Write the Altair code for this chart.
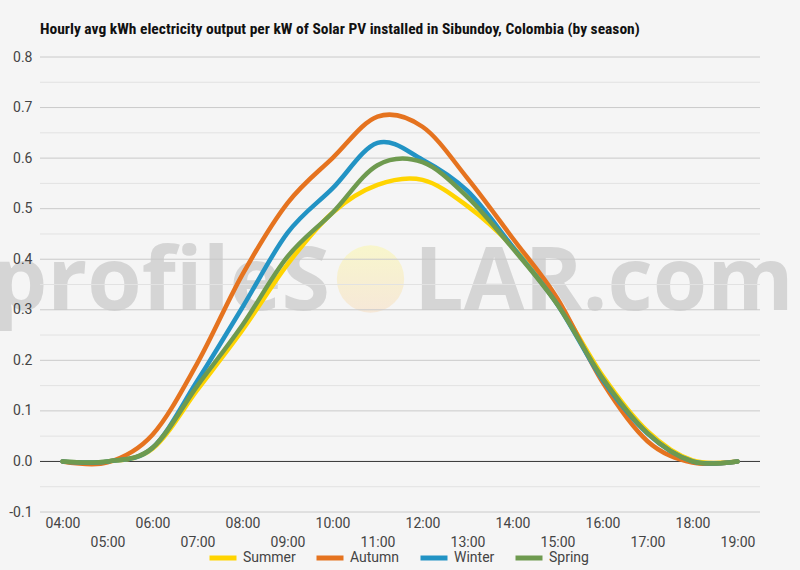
import altair as alt
import pandas as pd

# ---- data ----
hours = list(range(4, 20))
seasons = ["Summer", "Autumn", "Winter", "Spring"]
colors = ["#FFD400", "#E5731F", "#2293C4", "#6E9A4F"]

summer = [0.0, 0.0, 0.025, 0.142, 0.26, 0.39, 0.492, 0.547, 0.557, 0.505, 0.425, 0.315, 0.17, 0.06, 0.002, 0.0]
autumn = [0.0, -0.002, 0.053, 0.195, 0.37, 0.511, 0.60, 0.682, 0.662, 0.56, 0.442, 0.322, 0.157, 0.04, -0.002, 0.0]
winter = [0.0, 0.0, 0.027, 0.16, 0.305, 0.452, 0.54, 0.630, 0.597, 0.535, 0.425, 0.31, 0.162, 0.055, 0.0, 0.0]
spring = [0.0, 0.0, 0.027, 0.15, 0.27, 0.405, 0.492, 0.586, 0.592, 0.523, 0.422, 0.31, 0.165, 0.056, 0.0, 0.0]

y_ticks = [-0.1, 0.0, 0.1, 0.2, 0.3, 0.4, 0.5, 0.6, 0.7, 0.8]
y_minor = [-0.05, 0.05, 0.15, 0.25, 0.35, 0.45, 0.55, 0.65, 0.75]
watermark = ["profileS", "LAR.com"]

title_text = "Hourly avg kWh electricity output per kW of Solar PV installed in Sibundoy, Colombia (by season)"

# ---- tables ----
series = {"Summer": summer, "Autumn": autumn, "Winter": winter, "Spring": spring}
rows = []
for s in seasons:
    for h, v in zip(hours, series[s]):
        rows.append({"hour": h, "value": v, "season": s})
df = pd.DataFrame(rows)

major_df = pd.DataFrame({"value": [t for t in y_ticks if t != 0.0]})
minor_df = pd.DataFrame({"value": y_minor})
zero_df = pd.DataFrame({"value": [0.0]})

W, H = 720, 455
xscale = alt.Scale(domain=[3.5, 19.5], nice=False, zero=False)
yscale = alt.Scale(domain=[-0.1, 0.8], nice=False, zero=False)

FONT = "Roboto"

y_axis = alt.Axis(
    values=y_ticks, grid=False, domain=False, ticks=False, title=None,
    labelExpr="(datum.value < 0 ? '-' : '') + format(abs(datum.value), '.1f')",
    labelFont=FONT, labelFontSize=14, labelColor="#444444",
    labelPadding=8, zindex=1,
)
Y = alt.Y("value:Q", scale=yscale, axis=y_axis)

# watermark sun
sun = alt.Chart(pd.DataFrame({"k": [1]})).mark_circle(
    opacity=1,
    fill={
        "gradient": "linear",
        "x1": 0, "y1": 0, "x2": 0, "y2": 1,
        "stops": [
            {"offset": 0, "color": "#F8F6CC"},
            {"offset": 1, "color": "#F6E8D8"},
        ],
    },
    strokeWidth=0,
).encode(x=alt.value(330.5), y=alt.value(222), size=alt.value(4536))

wm_left = alt.Chart(pd.DataFrame({"t": [watermark[0]]})).mark_text(
    font="Open Sans", fontSize=88, fontWeight="bold", color="#D5D5D5",
    align="right", baseline="alphabetic",
).encode(x=alt.value(290), y=alt.value(253), text="t:N")

wm_right = alt.Chart(pd.DataFrame({"t": [watermark[1]]})).mark_text(
    font="Open Sans", fontSize=88, fontWeight="bold", color="#D5D5D5",
    align="left", baseline="alphabetic",
).encode(x=alt.value(374), y=alt.value(253), text="t:N")

minor = alt.Chart(minor_df).mark_rule(color="#E2E2E2", strokeWidth=1).encode(y=Y)
major = alt.Chart(major_df).mark_rule(color="#CACACA", strokeWidth=1).encode(y=Y)
zero = alt.Chart(zero_df).mark_rule(color="#333333", strokeWidth=1).encode(y=Y)

lines = alt.Chart(df).mark_line(
    interpolate="cardinal", strokeWidth=4.5, strokeCap="round", strokeJoin="round"
).encode(
    x=alt.X(
        "hour:Q", scale=xscale,
        axis=alt.Axis(
            values=hours, grid=False, domain=False, ticks=False, title=None,
            labelExpr="(datum.value % 2 == 1) ? ['', (datum.value < 10 ? '0' : '') + datum.value + ':00'] : (datum.value < 10 ? '0' : '') + datum.value + ':00'",
            labelFont=FONT, labelFontSize=14, labelColor="#444444",
            labelPadding=4, labelLineHeight=19, labelOverlap=False,
            labelBaseline="top",
        ),
    ),
    y=Y,
    color=alt.Color(
        "season:N",
        scale=alt.Scale(domain=seasons, range=colors),
        sort=seasons,
        legend=alt.Legend(
            title=None, orient="none", direction="horizontal",
            legendX=167, legendY=485,
            symbolType="stroke", symbolStrokeWidth=5, symbolSize=729,
            labelFont=FONT, labelFontSize=14, labelColor="#444444",
            labelOffset=4, columnPadding=10, padding=0,
        ),
    ),
    order=alt.Order("hour:Q"),
)

chart = alt.layer(sun, wm_left, wm_right, minor, major, zero, lines).properties(
    width=W, height=H,
    autosize=alt.AutoSizeParams(type="none"),
    padding={"left": 40, "top": 57, "right": 40, "bottom": 58},
    background="#F5F5F5",
    title=alt.TitleParams(
        title_text, anchor="start", frame="group",
        font="Roboto Condensed, Liberation Sans Narrow, Roboto",
        fontSize=15.5, fontWeight="bold", color="#111111", offset=13,
    ),
).configure_view(stroke=None)

chart.save("out.html", embed_options={"renderer": "svg", "actions": False})
